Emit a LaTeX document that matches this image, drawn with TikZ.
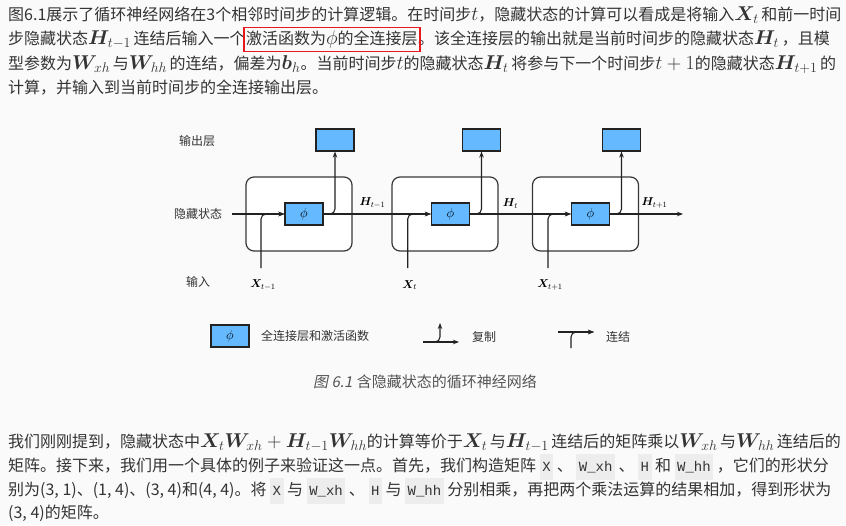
\documentclass[tikz,border=0pt]{standalone}
\usepackage{fix-cm}
\usepackage{amsmath,bm}
\usepackage[no-math]{fontspec}
\usetikzlibrary{arrows.meta, positioning, calc, fit}
\newfontfamily\cjk{Noto Sans CJK SC}
\newfontfamily\cjkslant[FakeSlant=0.2]{Noto Sans CJK SC}
\newfontfamily\codefont{Liberation Mono}
\definecolor{pagebg}{HTML}{FAFAFA}
\definecolor{textgray}{HTML}{333333}
\definecolor{capgray}{HTML}{555555}
\definecolor{codebg}{HTML}{EDEDED}
\definecolor{phiblue}{HTML}{64B9FF}
\definecolor{linedark}{HTML}{222222}
\definecolor{markred}{HTML}{E8191C}
\newcommand{\codebit}[1]{{\setlength{\fboxsep}{2.5pt}\colorbox{codebg}{\codefont\fontsize{14}{21}\selectfont\strut #1}}}
\newcommand{\mth}[1]{{\fontsize{20}{19}\selectfont$#1$}}
\tikzset{
    para/.style={anchor=base west, inner sep=0pt, font=\cjk\fontsize{16}{19}\selectfont, text=textgray},
    cellbox/.style={rectangle, draw=linedark!90, fill=white, rounded corners=8pt, line width=1.2pt, minimum width=106pt, minimum height=74pt},
    phibox/.style={rectangle, draw=linedark, fill=phiblue, line width=1.1pt, minimum width=38pt, minimum height=22pt, inner sep=0pt, font=\fontsize{13}{14}\selectfont},
    outbox/.style={phibox},
    lbl/.style={font=\cjk\fontsize{12}{14}\selectfont, text=textgray, inner sep=0pt},
    varlbl/.style={font=\fontsize{11.5}{13}\selectfont, inner sep=0pt},
    arrow/.style={-{Stealth[length=6pt, width=4.5pt]}, line width=1.1pt, draw=linedark},
    markbox/.style={draw=markred, line width=1.2pt, inner xsep=2pt, inner ysep=3pt}
}

\begin{document}
\begin{tikzpicture}[x=1pt, y=-1pt]
    \fill[pagebg] (0,0) rectangle (846,525);
    \useasboundingbox (0,0) rectangle (846,525);
    % text above the figure
    \node[para] (t1) at (8,20) {图6.1展示了循环神经网络在3个相邻时间步的计算逻辑。在时间步\mth{t}，隐藏状态的计算可以看成是将输入\mth{\bm{X}_t}\,和前一时间};
    \node[para] (t2a) at (8,44.5) {步隐藏状态\mth{\bm{H}_{t-1}}\,连结后输入一个};
    \node[para] (t2b) at (t2a.base east) {激活函数为\mth{\phi}的全连接层};
    \node[para] (t2c) at (t2b.base east) {。该全连接层的输出就是当前时间步的隐藏状态\mth{\bm{H}_t}\,，且模};
    \node[markbox, fit=(t2b)] (mark) {};
    \node[para] (t3) at (8,69) {型参数为\mth{\bm{W}_{xh}}\,与\mth{\bm{W}_{hh}}\,的连结，偏差为\mth{\bm{b}_h}。当前时间步\mth{t}的隐藏状态\mth{\bm{H}_t}\,将参与下一个时间步\mth{t+1}的隐藏状态\mth{\bm{H}_{t+1}}\,的};
    \node[para] (t4) at (8,93) {计算，并输入到当前时间步的全连接输出层。};

    % figure
    \node[lbl] (rowout) at (197,141) {输出层};
    \node[lbl] (rowhid) at (198,214) {隐藏状态};
    \node[lbl] (rowin) at (198,282) {输入};
    \foreach \i/\cx/\px/\ix/\sub in {1/299/304/261/{t-1}, 2/445/450.5/407.7/t, 3/585.5/590.5/548/{t+1}} {
        \node[cellbox] (cell\i) at (\cx,214) {};
        \node[phibox] (phi\i) at (\px,214) {$\phi$};
        \node[outbox] (out\i) at (\px+31,140) {};
        \coordinate (in\i) at (\ix,268);
        \node[varlbl] (x\i) at (\ix+2,285) {$\bm{X}_{\sub}$};
        \draw[arrow, rounded corners=5pt] (phi\i.east) -| (out\i.south);
        \draw[arrow, rounded corners=5pt] (in\i) |- (phi\i.west);
    }
    \coordinate (hstart) at (232,214);
    \coordinate (hend) at (683,214);
    \draw[arrow] (hstart) -- (phi1.west);
    \draw[arrow] (phi1.east) -- node[varlbl, pos=0.455, above=5pt] (h1) {$\bm{H}_{t-1}$} (phi2.west);
    \draw[arrow] (phi2.east) -- node[varlbl, pos=0.4, above=5pt] (h2) {$\bm{H}_{t}$} (phi3.west);
    \draw[arrow] (phi3.east) -- node[varlbl, pos=0.61, above=5pt] (h3) {$\bm{H}_{t+1}$} (hend);

    % legend
    \node[phibox] (legphi) at (230,336) {$\phi$};
    \node[lbl, anchor=west] (legphitxt) at (261,336) {全连接层和激活函数};
    \coordinate (cpl) at (423,342);
    \coordinate (cpr) at (459,342);
    \coordinate (cpu) at (440,323);
    \draw[arrow] (cpl) -- (cpr);
    \draw[arrow, rounded corners=5pt] (cpl) -| (cpu);
    \node[lbl, anchor=west] (cptxt) at (472,337) {复制};
    \coordinate (cnl) at (558,332);
    \coordinate (cnr) at (594,332);
    \coordinate (cnb) at (571,348);
    \draw[arrow] (cnl) -- (cnr);
    \draw[arrow, rounded corners=5pt] (cnb) |- (cnr);
    \node[lbl, anchor=west] (cntxt) at (606,337) {连结};
    \node[font=\fontsize{15}{18}\selectfont, text=capgray] (cap) at (425,382) {{\cjkslant 图 6.1} {\cjk 含隐藏状态的循环神经网络}};

    % text below the figure
    \node[para] (b1) at (8,447.5) {我们刚刚提到，隐藏状态中\mth{\bm{X}_t\bm{W}_{xh}+\bm{H}_{t-1}\bm{W}_{hh}}的计算等价于\mth{\bm{X}_t}\,与\mth{\bm{H}_{t-1}}\,连结后的矩阵乘以\mth{\bm{W}_{xh}}\,与\mth{\bm{W}_{hh}}\,连结后的};
    \node[para] (b2) at (8,471.5) {矩阵。接下来，我们用一个具体的例子来验证这一点。首先，我们构造矩阵 \codebit{X} 、 \codebit{W\_xh} 、 \codebit{H} 和 \codebit{W\_hh} ，它们的形状分};
    \node[para] (b3) at (8,495) {别为(3, 1)、(1, 4)、(3, 4)和(4, 4)。将 \codebit{X} 与 \codebit{W\_xh} 、 \codebit{H} 与 \codebit{W\_hh} 分别相乘，再把两个乘法运算的结果相加，得到形状为};
    \node[para] (b4) at (8,518.5) {(3, 4)的矩阵。};
\end{tikzpicture}
\end{document}
